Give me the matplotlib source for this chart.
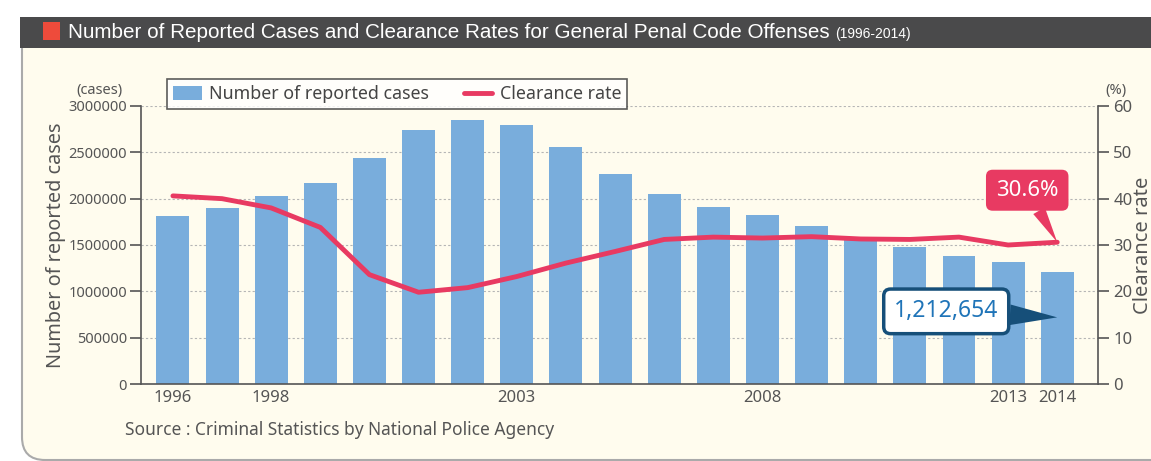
import numpy as np
import matplotlib.pyplot as plt
from matplotlib.patches import Rectangle, FancyBboxPatch
from matplotlib.ticker import FuncFormatter

years = list(range(1996, 2015))
cases = [1812119, 1899564, 2033546, 2165626, 2443470, 2735612, 2853739,
         2790136, 2562767, 2269572, 2050850, 1908836, 1826314, 1703044,
         1586189, 1480760, 1382121, 1314140, 1212654]
rates = [40.6, 40.0, 38.0, 33.8, 23.6, 19.8, 20.8, 23.2, 26.1, 28.6,
         31.2, 31.7, 31.5, 31.8, 31.3, 31.2, 31.7, 30.0, 30.6]
shown_years = [1996, 1998, 2003, 2008, 2013, 2014]

title = "Number of Reported Cases and Clearance Rates for General Penal Code Offenses"
period = "(1996-2014)"
source = "Source : Criminal Statistics by National Police Agency"

bar_c = "#79addc"
line_c = "#e83a62"
grey = "#555555"
cream = "#fffcee"

plt.rcParams['font.family'] = ['Noto Sans', 'DejaVu Sans']

W, H = 1151, 461
fig = plt.figure(figsize=(W / 100, H / 100), dpi=100)
fig.patch.set_facecolor("white")

# panel background + header
body = FancyBboxPatch((22 / W, 1 / H), 1.2, (H - 20) / H,
                      boxstyle="round,pad=0,rounding_size=0.02",
                      transform=fig.transFigure, fc=cream, ec="#aaaaaa", lw=1.5,
                      mutation_aspect=W / H, zorder=-10)
fig.add_artist(body)
fig.add_artist(Rectangle((20 / W, 1 - 48 / H), 1, 31 / H, transform=fig.transFigure,
                         fc="#4a4a4b", ec="none", zorder=-9))
fig.add_artist(Rectangle((43 / W, 1 - 40 / H), 17 / W, 18 / H, transform=fig.transFigure,
                         fc="#ee4b3b", ec="none", zorder=-8))
t = fig.text(68 / W, 1 - 32 / H, title, color="white", fontsize=14, va="center",
             family="Liberation Sans")
r = fig.canvas.get_renderer()
bb = t.get_window_extent(r)
t.set_fontsize(14 * 767 / bb.width)
bb = t.get_window_extent(r)
fig.text((bb.x1 + 5) / W, 1 - 34 / H, period, color="white", fontsize=10, va="center",
         family="Liberation Sans")

ax = fig.add_axes([141 / W, 1 - 384 / H, (1098 - 141) / W, (384 - 106) / H])
ax.patch.set_alpha(0)
x = np.arange(len(years))
bars = ax.bar(x, cases, width=0.67, color=bar_c, zorder=2,
              label="Number of reported cases")
ax.set_ylim(0, 3000000)
ax.set_xlim(-0.65, len(years) - 1 + 0.83)
ax.set_yticks(np.arange(0, 3000001, 500000))
ax.yaxis.set_major_formatter(FuncFormatter(lambda v, p: f"{int(v)}"))
ax.yaxis.grid(True, ls=(0, (2, 2)), color="#b5b5b5", lw=0.8, zorder=0)
ax.set_axisbelow(True)
ax.set_xticks([years.index(y) for y in shown_years])
ax.set_xticklabels([str(y) for y in shown_years])
ax.tick_params(axis="x", length=0, pad=4, labelsize=12, colors=grey)
ax.tick_params(axis="y", length=8, width=1.2, color=grey, labelsize=10.5, labelcolor=grey, pad=2)
for s in ["top", "right"]:
    ax.spines[s].set_visible(False)
for s in ["left", "bottom"]:
    ax.spines[s].set_color(grey)
    ax.spines[s].set_linewidth(1.2)
ax.set_ylabel("Number of reported cases", fontsize=14.3, color=grey, labelpad=2)
ax.text(-0.043, 1.03, "(cases)", transform=ax.transAxes, ha="center", va="bottom",
        fontsize=10.5, color=grey)

ax2 = ax.twinx()
line, = ax2.plot(x, rates, color=line_c, lw=3.5, solid_joinstyle="round",
                 solid_capstyle="round", label="Clearance rate", zorder=3)
ax2.set_ylim(0, 60)
ax2.set_yticks(np.arange(0, 61, 10))
ax2.tick_params(axis="y", length=8, width=1.2, color=grey, labelsize=12, labelcolor=grey, pad=3)
for s in ["top", "left", "bottom"]:
    ax2.spines[s].set_visible(False)
ax2.spines["right"].set_color(grey)
ax2.spines["right"].set_linewidth(1.2)
ax2.set_ylabel("Clearance rate", fontsize=14.5, color=grey, labelpad=0)
ax2.text(1.019, 1.03, "(%)", transform=ax2.transAxes, ha="center", va="bottom",
         fontsize=10.5, color=grey)

leg = ax2.legend([bars, line], ["Number of reported cases", "Clearance rate"],
                 loc="upper left", bbox_to_anchor=(0.027, 1.097), ncol=2,
                 fontsize=12.8, frameon=True, fancybox=False, edgecolor="#333333",
                 handlelength=1.6, handleheight=0.8, handletextpad=0.4,
                 columnspacing=2.0, borderpad=0.35, borderaxespad=0,
                 labelcolor="#444444")
leg.get_frame().set_linewidth(1.2)

# callouts
ax2.annotate("30.6%", xy=(x[-1], rates[-1]), xytext=(-30, 52), textcoords="offset pixels",
             ha="center", va="center", fontsize=16, color="white",
             bbox=dict(boxstyle="round,pad=0.45,rounding_size=0.3", fc=line_c, ec="none"),
             arrowprops=dict(arrowstyle="wedge,tail_width=0.6,shrink_factor=0.5", fc=line_c,
                             ec="none", shrinkA=0, shrinkB=0),
             zorder=5)
ax2.annotate(f"{cases[-1]:,}", xy=(x[-1], rates[-1] * 0.47), xytext=(-111, 6),
             textcoords="offset pixels", ha="center", va="center", fontsize=16.5,
             color="#1f74b8", fontweight="medium",
             bbox=dict(boxstyle="round,pad=0.45,rounding_size=0.3", fc="white",
                       ec="#164f79", lw=2.5),
             arrowprops=dict(arrowstyle="wedge,tail_width=0.9,shrink_factor=0.5", fc="#164f79",
                             ec="none", shrinkA=0, shrinkB=0),
             zorder=5)

fig.text(125 / W, 1 - 430 / H, source, fontsize=12.5, color=grey, va="center")

fig.savefig("out.png", dpi=100)
